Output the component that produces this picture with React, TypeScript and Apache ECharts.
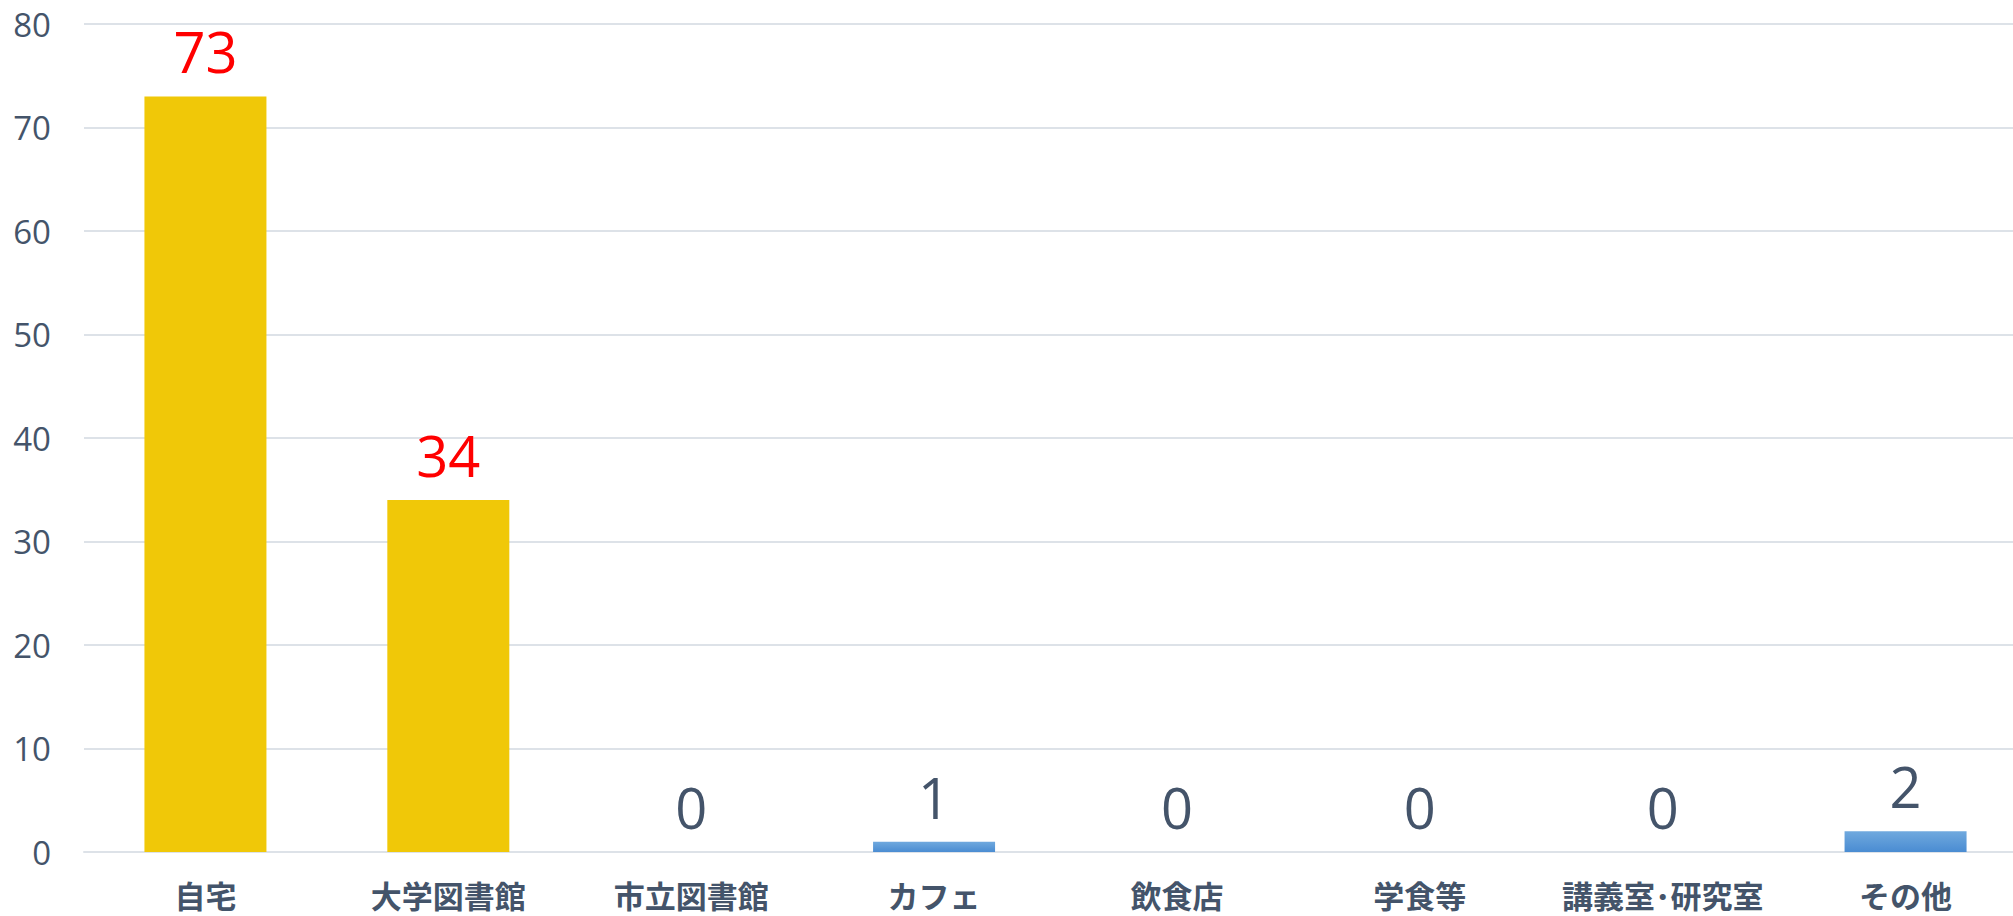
import React, { useEffect, useRef } from "react";
import * as echarts from "echarts";

const categories = ["自宅", "大学図書館", "市立図書館", "カフェ", "飲食店", "学食等", "講義室･研究室", "その他"];
const values = [73, 34, 0, 1, 0, 0, 0, 2];
const highlighted = [true, true, false, false, false, false, false, false];
const yTicks = { min: 0, max: 80, interval: 10 };

const TEXT = "#44546A";
const GRID = "#DDE2E8";
const YELLOW = "#F0C808";

export default function App() {
  const ref = useRef<HTMLDivElement>(null);
  useEffect(() => {
    const chart = echarts.init(ref.current!, null, { renderer: "svg" });
    const blue = new echarts.graphic.LinearGradient(0, 0, 0, 1, [
      { offset: 0, color: "#70A9DE" },
      { offset: 1, color: "#4A8CD2" },
    ]);
    chart.setOption({
      animation: false,
      backgroundColor: "#ffffff",
      grid: { left: 84, top: 24, width: 1943, height: 828, containLabel: false },
      xAxis: {
        type: "category",
        data: categories,
        axisLine: { show: true, lineStyle: { color: GRID, width: 2 } },
        axisTick: { show: false },
        axisLabel: {
          interval: 0,
          color: TEXT,
          fontSize: 31,
          fontWeight: "bold",
          fontFamily: "Noto Sans CJK JP",
          margin: 27,
        },
      },
      yAxis: {
        type: "value",
        min: yTicks.min,
        max: yTicks.max,
        interval: yTicks.interval,
        axisLine: { show: false },
        axisTick: { show: false },
        splitLine: { lineStyle: { color: GRID, width: 2 } },
        axisLabel: {
          color: TEXT,
          fontSize: 33,
          fontFamily: "Open Sans",
          margin: 33,
        },
      },
      series: [
        {
          type: "bar",
          barWidth: 122,
          data: values.map((v, i) => ({
            value: v,
            itemStyle: { color: highlighted[i] ? YELLOW : blue },
            label: { color: highlighted[i] ? "#FF0000" : TEXT },
          })),
          label: {
            show: true,
            position: "top",
            distance: 17,
            fontSize: 56,
            fontFamily: "Open Sans",
          },
        },
      ],
    });
    return () => chart.dispose();
  }, []);
  return (
    <div
      style={{
        position: "fixed",
        left: 0,
        top: 0,
        width: 2013,
        height: 916,
        overflow: "hidden",
        background: "#ffffff",
      }}
    >
      <div ref={ref} style={{ width: 2060, height: 916 }} />
    </div>
  );
}
